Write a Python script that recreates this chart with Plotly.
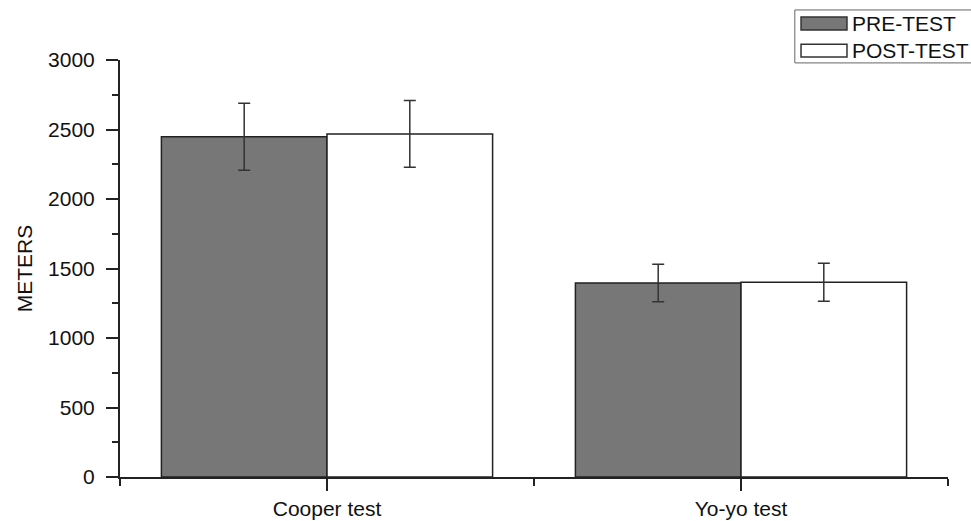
import plotly.graph_objects as go

categories = ["Cooper test", "Yo-yo test"]
series_names = ["PRE-TEST", "POST-TEST"]
pre_values = [2447, 1396]
pre_errors = [241, 135]
post_values = [2468, 1401]
post_errors = [240, 137]
y_tick_values = [0, 500, 1000, 1500, 2000, 2500, 3000]

x_pos = list(range(len(categories)))
FONT = "Liberation Sans, Arial, sans-serif"
DARK = "#222222"

fig = go.Figure()
fig.add_trace(go.Bar(
    x=x_pos, y=pre_values, name=series_names[0],
    marker=dict(color="#777777", line=dict(color=DARK, width=1.5)),
    error_y=dict(type="data", array=pre_errors, color="#333333", thickness=1.5, width=6),
))
fig.add_trace(go.Bar(
    x=x_pos, y=post_values, name=series_names[1],
    marker=dict(color="#ffffff", line=dict(color=DARK, width=1.5)),
    error_y=dict(type="data", array=post_errors, color="#333333", thickness=1.5, width=6),
))

fig.update_layout(
    width=971, height=521,
    margin=dict(l=120, r=23, t=60, b=44),
    paper_bgcolor="white", plot_bgcolor="white",
    barmode="group", bargap=0.2, bargroupgap=0,
    showlegend=False,
    font=dict(family=FONT, size=21, color="#111111"),
)
fig.update_xaxes(
    range=[-0.5, len(categories) - 0.5],
    tickmode="array", tickvals=x_pos, ticktext=categories,
    showline=True, linecolor=DARK, linewidth=2,
    ticks="outside", ticklen=12, tickwidth=2, tickcolor=DARK,
    minor=dict(tickmode="linear", tick0=-0.5, dtick=1, ticks="outside", ticklen=7, tickwidth=2, tickcolor=DARK),
    showgrid=False, zeroline=False, automargin=False,
    tickfont=dict(size=21),
)
fig.update_yaxes(
    range=[0, 3000],
    tickmode="array", tickvals=y_tick_values,
    showline=True, linecolor=DARK, linewidth=2,
    ticks="outside", ticklen=12, tickwidth=2, tickcolor=DARK,
    minor=dict(tickmode="linear", tick0=0, dtick=250, ticks="outside", ticklen=6, tickwidth=2, tickcolor=DARK),
    showgrid=False, zeroline=False, automargin=False,
    ticklabelstandoff=7,
    tickfont=dict(size=21),
    title=dict(text="METERS", font=dict(size=21), standoff=10),
)

# Custom legend box (wide swatches like the original)
fills = ["#777777", "#ffffff"]
fig.add_shape(type="rect", xref="paper", yref="paper", x0=0.815, x1=1.04, y0=0.993, y1=1.12,
              line=dict(color="#666666", width=1), fillcolor="white", layer="above")
sw_y = [(1.072, 1.103), (1.007, 1.038)]
for name, fill, (y0, y1) in zip(series_names, fills, sw_y):
    fig.add_shape(type="rect", xref="paper", yref="paper", x0=0.8225, x1=0.878, y0=y0, y1=y1,
                  line=dict(color="#333333", width=1.5), fillcolor=fill, layer="above")
    fig.add_annotation(xref="paper", yref="paper", x=0.882, y=(y0 + y1) / 2, text=name,
                       showarrow=False, xanchor="left", yanchor="middle",
                       font=dict(size=21, family=FONT, color="#111111"))

fig.write_html("out.html", config={"displayModeBar": False},
               post_script="document.body.style.margin='0';document.body.style.overflow='hidden';")
